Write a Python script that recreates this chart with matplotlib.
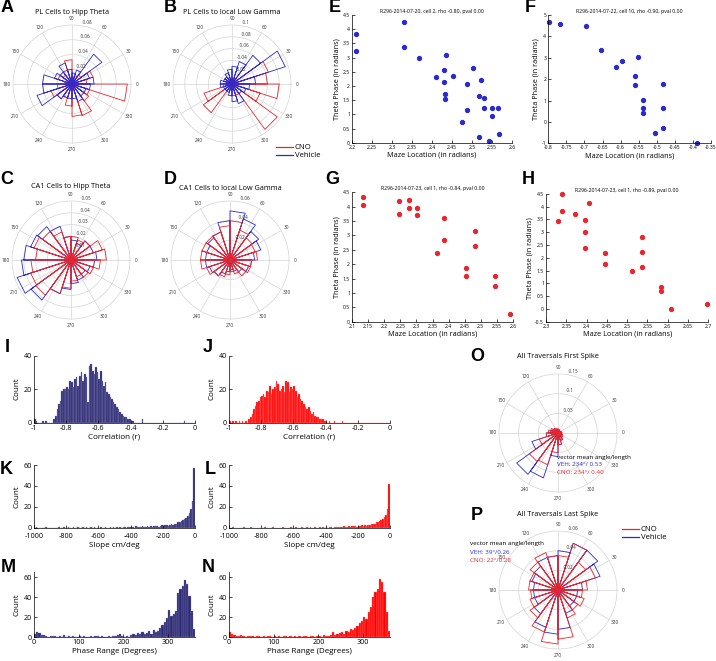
import numpy as np
import matplotlib
matplotlib.use("Agg")
import matplotlib.pyplot as plt
from matplotlib.lines import Line2D

# ---------------- data ----------------
# rose plots: fraction per 18-degree bin, starting at 0 deg, counter-clockwise
A_cno = [0.02, 0.03, 0.015, 0.012, 0.01, 0.033, 0.02, 0.015, 0.02, 0.01,
         0.02, 0.03, 0.025, 0.02, 0.03, 0.044, 0.045, 0.028, 0.025, 0.075]
A_veh = [0.03, 0.025, 0.05, 0.02, 0.015, 0.02, 0.03, 0.02, 0.025, 0.04,
         0.04, 0.05, 0.025, 0.02, 0.02, 0.02, 0.025, 0.02, 0.02, 0.025]
B_cno = [0.06, 0.065, 0.01, 0.01, 0.01, 0.008, 0.01, 0.01, 0.01, 0.01,
         0.015, 0.05, 0.06, 0.01, 0.01, 0.02, 0.02, 0.095, 0.05, 0.08]
B_veh = [0.04, 0.095, 0.06, 0.04, 0.03, 0.025, 0.02, 0.015, 0.015, 0.02,
         0.02, 0.015, 0.015, 0.015, 0.02, 0.03, 0.035, 0.02, 0.025, 0.03]
C_cno = [0.03, 0.028, 0.02, 0.018, 0.02, 0.02, 0.025, 0.03, 0.033, 0.03,
         0.034, 0.036, 0.037, 0.03, 0.024, 0.018, 0.015, 0.018, 0.02, 0.025]
C_veh = [0.022, 0.02, 0.02, 0.015, 0.017, 0.02, 0.03, 0.035, 0.036, 0.04,
         0.042, 0.048, 0.042, 0.03, 0.025, 0.02, 0.018, 0.015, 0.017, 0.02]
D_cno = [0.028, 0.027, 0.028, 0.032, 0.04, 0.035, 0.03, 0.03, 0.03, 0.03,
         0.03, 0.025, 0.02, 0.018, 0.015, 0.012, 0.015, 0.02, 0.022, 0.022]
D_veh = [0.025, 0.033, 0.036, 0.044, 0.05, 0.04, 0.03, 0.028, 0.025, 0.025,
         0.025, 0.022, 0.02, 0.015, 0.012, 0.01, 0.012, 0.015, 0.02, 0.022]
O_cno = [0.01, 0.008, 0.006, 0.008, 0.01, 0.01, 0.012, 0.015, 0.02, 0.025,
         0.03, 0.05, 0.09, 0.085, 0.05, 0.03, 0.02, 0.015, 0.012, 0.01]
O_veh = [0.008, 0.006, 0.005, 0.006, 0.008, 0.01, 0.01, 0.012, 0.015, 0.02,
         0.03, 0.07, 0.13, 0.12, 0.06, 0.03, 0.02, 0.012, 0.01, 0.008]
P_cno = [0.03, 0.04, 0.035, 0.05, 0.035, 0.035, 0.04, 0.035, 0.03, 0.03,
         0.028, 0.03, 0.035, 0.045, 0.055, 0.05, 0.03, 0.025, 0.028, 0.025]
P_veh = [0.025, 0.045, 0.05, 0.05, 0.04, 0.035, 0.035, 0.03, 0.028, 0.025,
         0.025, 0.025, 0.03, 0.04, 0.045, 0.04, 0.025, 0.02, 0.02, 0.02]

# example cells: maze location vs theta phase
E_x = [2.21, 2.21, 2.331, 2.331, 2.367, 2.435, 2.429, 2.411, 2.429, 2.4525, 2.4325, 2.4325, 2.502,
       2.5225, 2.488, 2.5175, 2.531, 2.488, 2.531, 2.549, 2.566, 2.549, 2.475, 2.518, 2.5425, 2.568]
E_y = [3.82, 3.23, 4.25, 3.38, 3.00, 3.09, 2.57, 2.30, 2.13, 2.34, 1.71, 1.54, 2.64,
       2.21, 2.07, 1.66, 1.56, 1.15, 1.22, 1.23, 1.23, 0.93, 0.73, 0.21, 0.07, 0.32]
F_x = [-0.798, -0.768, -0.695, -0.653, -0.597, -0.614, -0.553, -0.559, -0.559, -0.484,
       -0.538, -0.538, -0.484, -0.538, -0.484, -0.505, -0.39]
F_y = [4.68, 4.59, 4.48, 3.37, 2.85, 2.58, 3.02, 2.16, 1.74, 1.76,
       1.01, 0.65, 0.65, 0.40, -0.27, -0.52, -0.97]
G_x = [2.134, 2.134, 2.245, 2.276, 2.276, 2.301, 2.245, 2.301, 2.387, 2.482, 2.387, 2.482,
       2.365, 2.455, 2.455, 2.545, 2.545, 2.59]
G_y = [4.35, 4.05, 4.2, 4.23, 3.97, 3.94, 3.75, 3.70, 3.62, 3.15, 2.84, 2.64,
       2.39, 1.87, 1.58, 1.59, 1.23, 0.28]
H_x = [2.339, 2.407, 2.339, 2.329, 2.371, 2.395, 2.395, 2.395, 2.445, 2.445, 2.537, 2.537,
       2.537, 2.512, 2.583, 2.583, 2.609, 2.696]
H_y = [4.5, 4.13, 3.83, 3.44, 3.70, 3.48, 2.99, 2.37, 2.19, 1.76, 2.80, 2.24,
       1.63, 1.50, 0.86, 0.72, 0.0, 0.18]

# correlation histograms, 0.01 bins from -1 to 0
I_counts = [2, 1, 0, 0, 0, 1, 0, 1, 0, 0, 0, 0, 2, 4, 8, 11, 13, 19, 20, 20,
            21, 20, 25, 24, 21, 26, 27, 22, 28, 30, 25, 29, 27, 12, 34, 35, 31, 29, 33, 30,
            26, 31, 25, 22, 24, 18, 17, 15, 14, 12, 11, 9, 8, 6, 5, 4, 3, 3, 2, 2,
            1, 1, 0, 0, 0, 0, 0, 2, 0, 0, 0, 0, 0, 0, 0, 0, 0, 0, 0, 0,
            0, 0, 0, 0, 0, 0, 0, 0, 0, 0, 0, 0, 0, 1, 0, 0, 0, 0, 0, 0]
J_counts = [1, 0, 1, 0, 1, 0, 1, 0, 1, 0, 1, 0, 2, 3, 5, 8, 10, 12, 13, 15,
            16, 17, 15, 19, 18, 22, 17, 20, 21, 25, 23, 19, 20, 22, 18, 25, 24, 18, 21, 20,
            22, 19, 15, 17, 14, 13, 11, 9, 8, 9, 7, 5, 6, 4, 3, 3, 2, 2, 2, 1,
            1, 0, 1, 0, 0, 1, 0, 0, 0, 0, 1, 0, 0, 0, 0, 0, 0, 0, 0, 0,
            0, 0, 0, 0, 0, 0, 0, 0, 0, 0, 0, 0, 0, 0, 0, 0, 0, 0, 0, 0]
# slope histograms, 10 cm/deg bins from -1000 to 0
K_counts = [0, 1, 0, 0, 0, 0, 0, 1, 0, 0, 0, 0, 0, 0, 0, 1, 0, 0, 1, 0,
            0, 1, 0, 0, 1, 0, 0, 1, 0, 0, 1, 0, 1, 0, 0, 1, 0, 1, 0, 0,
            0, 1, 0, 0, 1, 0, 0, 1, 0, 1, 0, 1, 0, 1, 0, 1, 1, 0, 1, 1,
            1, 1, 0, 2, 1, 1, 1, 2, 1, 1, 2, 1, 2, 1, 2, 2, 2, 1, 2, 3,
            2, 3, 3, 2, 3, 4, 3, 4, 4, 5, 5, 6, 7, 8, 9, 11, 14, 18, 26, 57]
L_counts = [0, 0, 1, 0, 0, 0, 0, 0, 0, 1, 0, 0, 0, 1, 0, 0, 0, 0, 0, 0,
            0, 0, 1, 0, 0, 0, 0, 1, 0, 0, 0, 0, 0, 1, 0, 0, 0, 0, 1, 0,
            0, 1, 0, 0, 0, 1, 0, 0, 1, 0, 1, 0, 0, 1, 0, 0, 1, 0, 1, 0,
            1, 0, 1, 1, 0, 1, 1, 1, 1, 1, 1, 2, 1, 1, 2, 1, 2, 2, 2, 1,
            2, 2, 3, 2, 3, 2, 3, 3, 4, 4, 4, 5, 5, 6, 7, 8, 10, 12, 18, 42]
# phase range histograms, 5 degree bins from 0 to 360
M_counts = [3, 5, 4, 2, 2, 1, 0, 1, 1, 1, 0, 1, 0, 2, 0, 1, 0, 1, 0, 0,
            1, 0, 1, 0, 0, 1, 0, 1, 1, 0, 1, 0, 0, 1, 0, 1, 1, 2, 3, 1,
            0, 1, 0, 2, 3, 2, 4, 3, 5, 3, 4, 6, 3, 7, 5, 6, 9, 12, 15, 19,
            27, 21, 23, 26, 44, 48, 51, 57, 53, 41, 26, 8]
N_counts = [5, 3, 2, 1, 1, 2, 1, 0, 1, 1, 1, 0, 1, 1, 0, 1, 0, 1, 1, 0,
            1, 0, 1, 0, 1, 1, 0, 1, 0, 1, 0, 1, 0, 1, 1, 0, 1, 1, 0, 1,
            1, 0, 2, 1, 1, 2, 5, 2, 3, 4, 5, 3, 6, 5, 8, 7, 9, 11, 14, 16,
            20, 18, 25, 30, 40, 45, 48, 58, 55, 45, 25, 6]

RED = '#e8262d'
BLUE = '#2a2ad0'
NAVY = '#2b2874'
GRID = '#d4d4d4'

W, H = 716, 661
plt.rcParams['font.family'] = ['Open Sans', 'DejaVu Sans']
fig = plt.figure(figsize=(W / 100, H / 100), dpi=100)


def px_axes(x0, y0, x1, y1):
    return fig.add_axes([x0 / W, 1 - y1 / H, (x1 - x0) / W, (y1 - y0) / H])


def ftext(x, y, s, **kw):
    return fig.text(x / W, 1 - y / H, s, **kw)


def letter(x, y, s):
    ftext(x, y, s, fontsize=13, fontweight='bold', ha='center', va='center',
          family='Liberation Sans')


def rose_panel(cx, cy, rmax, rings, series, title, ty, R=59):
    s = R * 1.3
    ax = px_axes(cx - s, cy - s, cx + s, cy + s)
    ax.set_xlim(-s / R, s / R)
    ax.set_ylim(-s / R, s / R)
    ax.axis('off')
    t = np.linspace(0, 2 * np.pi, 400)
    for rv in rings:
        ax.plot(rv / rmax * np.cos(t), rv / rmax * np.sin(t), color=GRID, lw=0.5, zorder=1)
    for a in range(0, 360, 30):
        ar = np.deg2rad(a)
        ax.plot([0, np.cos(ar)], [0, np.sin(ar)], color=GRID, lw=0.5, zorder=1)
        ax.text(1.11 * np.cos(ar), 1.11 * np.sin(ar), str(a), ha='center', va='center',
                fontsize=3.4, color='#333333')
    c82, s82 = np.cos(np.deg2rad(82)), np.sin(np.deg2rad(82))
    for rv in rings:
        r = rv / rmax + rings[0] / rmax / 20
        ax.text(r * c82, r * s82, '  ' + f'{rv:g}', ha='left', va='bottom',
                fontsize=3.3, color='#333333', zorder=5)
    for vals, col in series:
        n = len(vals)
        xs, ys = [], []
        for i, v in enumerate(vals):
            a0 = 2 * np.pi * i / n
            a1 = 2 * np.pi * (i + 1) / n
            r = v / rmax
            xs += [0, r * np.cos(a0), r * np.cos(a1), 0, np.nan]
            ys += [0, r * np.sin(a0), r * np.sin(a1), 0, np.nan]
        ax.plot(xs, ys, color=col, lw=0.6, zorder=3)
        ax.plot([0], [0], 'o', ms=3.2, color=col, zorder=4)
    ftext(cx, ty, title, ha='center', va='center', fontsize=5.2)
    return ax


def style_axes(ax, fs, xpad=1.5):
    for sp in ('top', 'right'):
        ax.spines[sp].set_visible(False)
    for sp in ('left', 'bottom'):
        ax.spines[sp].set_linewidth(0.5)
    ax.tick_params(direction='in', length=2, width=0.5, labelsize=fs, pad=1.5)
    ax.tick_params(axis='x', pad=xpad)


def scatter_panel(box, xs, ys, col, xlim, ylim, xstep, ystep, title):
    ax = px_axes(*box)
    ax.plot(xs, ys, 'o', ms=2.8, color=col, mec=col, clip_on=False)
    ax.set_xlim(xlim)
    ax.set_ylim(ylim)
    xt = np.round(np.arange(xlim[0], xlim[1] + 1e-9, xstep), 2)
    yt = np.round(np.arange(ylim[0], ylim[1] + 1e-9, ystep), 2)
    ax.set_xticks(xt)
    ax.set_xticklabels([f'{v:g}' for v in xt])
    ax.set_yticks(yt)
    ax.set_yticklabels([f'{v:g}' for v in yt])
    style_axes(ax, 3.6)
    ax.set_title(title, fontsize=3.7, pad=1.5)
    ax.set_xlabel('Maze Location (in radians)', fontsize=5.2, labelpad=1.5)
    ax.set_ylabel('Theta Phase (in radians)', fontsize=5.2, labelpad=1.5)
    return ax


def hist_panel(box, counts, col, ecol, xlim, ylim, xt, yt, xlabel, xpad=1.5):
    ax = px_axes(*box)
    edges = np.linspace(xlim[0], xlim[1], len(counts) + 1)
    ax.bar((edges[:-1] + edges[1:]) / 2, counts, width=np.diff(edges),
           color=col, edgecolor=ecol, linewidth=0.25)
    ax.set_xlim(xlim)
    ax.set_ylim(ylim)
    ax.set_xticks(xt)
    ax.set_xticklabels([f'{v:g}' for v in xt])
    ax.set_yticks(yt)
    style_axes(ax, 5.2, xpad)
    ax.set_xlabel(xlabel, fontsize=5.8, labelpad=1.5)
    ax.set_ylabel('Count', fontsize=5.8, labelpad=2)
    return ax


# ---------------- rose panels ----------------
rose_panel(72, 84, 0.08, [0.02, 0.04, 0.06, 0.08], [(A_cno, RED), (A_veh, BLUE)],
           'PL Cells to Hipp Theta', 12)
rose_panel(232, 84, 0.1, [0.02, 0.04, 0.06, 0.08, 0.1], [(B_cno, RED), (B_veh, BLUE)],
           'PL Cells to local Low Gamma', 12)
rose_panel(71, 260, 0.05, [0.01, 0.02, 0.03, 0.04, 0.05], [(C_veh, BLUE), (C_cno, RED)],
           'CA1 Cells to Hipp Theta', 187)
rose_panel(230, 260, 0.06, [0.02, 0.04, 0.06], [(D_veh, BLUE), (D_cno, RED)],
           'CA1 Cells to local Low Gamma', 188)
rose_panel(558, 433, 0.15, [0.05, 0.1, 0.15], [(O_veh, BLUE), (O_cno, RED)],
           'All Traversals First Spike', 357)
rose_panel(558, 590, 0.06, [0.02, 0.04, 0.06], [(P_veh, BLUE), (P_cno, RED)],
           'All Traversals Last Spike', 515)

handles = [Line2D([], [], color=RED, lw=0.9), Line2D([], [], color=BLUE, lw=0.9)]
fig.legend(handles, ['CNO', 'Vehicle'], loc='upper left', bbox_to_anchor=(276 / W, 1 - 144 / H),
           frameon=False, fontsize=5.6, handlelength=2.2, handletextpad=0.2,
           labelspacing=0.05, borderpad=0, borderaxespad=0)
fig.legend(handles, ['CNO', 'Vehicle'], loc='upper left', bbox_to_anchor=(622 / W, 1 - 526 / H),
           frameon=False, fontsize=5.6, handlelength=2.2, handletextpad=0.2,
           labelspacing=0.05, borderpad=0, borderaxespad=0)

ftext(557, 457, 'vector mean angle/length', fontsize=4.5, ha='left', va='center', zorder=10)
ftext(557, 465, 'VEH: 234\u00b0/ 0.53', fontsize=4.5, ha='left', va='center', color=BLUE, zorder=10)
ftext(557, 473, 'CNO: 234\u00b0/ 0.40', fontsize=4.5, ha='left', va='center', color=RED, zorder=10)
ftext(470, 543, 'vector mean angle/length', fontsize=4.5, ha='left', va='center', zorder=10)
ftext(470, 552, 'VEH: 39\u00b0/0.26', fontsize=4.5, ha='left', va='center', color=BLUE, zorder=10)
ftext(470, 561, 'CNO: 22\u00b0/0.28', fontsize=4.5, ha='left', va='center', color=RED, zorder=10)

# ---------------- scatter panels ----------------
scatter_panel((352, 15, 512, 142.7), E_x, E_y, BLUE, (2.2, 2.6), (0, 4.5), 0.05, 0.5,
              'R296-2014-07-20, cell 2, rho -0.80, pval 0.00')
scatter_panel((548.3, 15, 711, 143.3), F_x, F_y, BLUE, (-0.8, -0.35), (-1, 5), 0.05, 1,
              'R296-2014-07-22, cell 10, rho -0.90, pval 0.00')
scatter_panel((352, 192.3, 513, 321.7), G_x, G_y, RED, (2.1, 2.6), (0, 4.5), 0.05, 0.5,
              'R296-2014-07-23, cell 1, rho -0.84, pval 0.00')
scatter_panel((546, 193.9, 708.3, 321.7), H_x, H_y, RED, (2.3, 2.7), (-0.5, 4.5), 0.05, 0.5,
              'R296-2014-07-23, cell 1, rho -0.89, pval 0.00')

# ---------------- histograms ----------------
corr_ticks = [-1, -0.8, -0.6, -0.4, -0.2, 0]
hist_panel((34, 355.7, 195, 422.5), I_counts, NAVY, '#8c8ab0', (-1, 0), (0, 40), corr_ticks,
           [0, 20, 40], 'Correlation (r)')
hist_panel((229, 355.7, 390, 422.5), J_counts, 'red', '#ff8080', (-1, 0), (0, 40), corr_ticks,
           [0, 20, 40], 'Correlation (r)')
slope_ticks = [-1000, -800, -600, -400, -200, 0]
hist_panel((34, 465, 195, 527.7), K_counts, NAVY, '#8c8ab0', (-1000, 0), (0, 60), slope_ticks,
           [0, 20, 40, 60], 'Slope cm/deg', xpad=3.5)
hist_panel((229, 465, 390, 527.7), L_counts, 'red', '#ff8080', (-1000, 0), (0, 60), slope_ticks,
           [0, 20, 40, 60], 'Slope cm/deg', xpad=3.5)
phase_ticks = [0, 100, 200, 300]
hist_panel((34, 572.3, 195, 637.3), M_counts, NAVY, '#8c8ab0', (0, 360), (0, 65), phase_ticks,
           [0, 20, 40, 60], 'Phase Range (Degrees)')
hist_panel((229, 572.3, 390, 637.3), N_counts, 'red', '#ff8080', (0, 360), (0, 65), phase_ticks,
           [0, 20, 40, 60], 'Phase Range (Degrees)')

# ---------------- panel letters ----------------
for s, x, y in [('A', 7, 8), ('B', 170, 8), ('C', 7, 180), ('D', 170, 180),
                ('E', 335, 8), ('F', 530, 8), ('G', 332, 180), ('H', 528, 180),
                ('I', 7, 347), ('J', 208, 347), ('K', 6, 470), ('L', 210, 470),
                ('M', 8, 567), ('N', 208, 567), ('O', 477, 357), ('P', 477, 515)]:
    letter(x, y, s)

fig.savefig('out.png', dpi=100)
